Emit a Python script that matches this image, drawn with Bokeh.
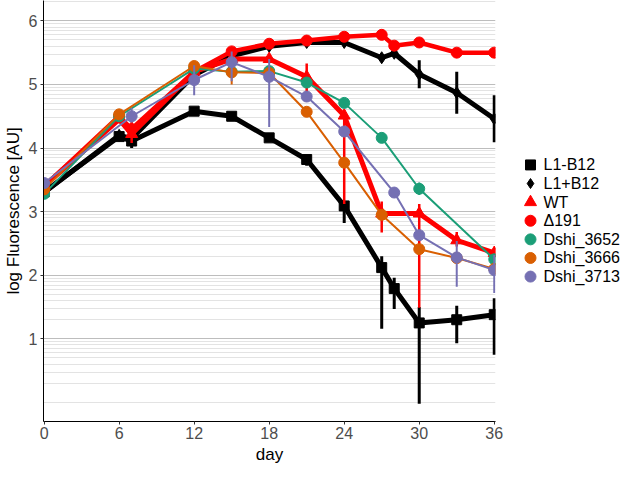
import math
from bokeh.plotting import figure
from bokeh.layouts import row
from bokeh.models import FixedTicker, Range1d
from bokeh.core.properties import value
from bokeh.embed import file_html
from bokeh.resources import INLINE

# ---------------- data ----------------
x_ticks = [0, 6, 12, 18, 24, 30, 36]
y_ticks = [1, 2, 3, 4, 5, 6]

days_l1_minus = [0, 6, 7, 12, 15, 18, 21, 24, 27, 28, 30, 33, 36]
val_l1_minus = [3.31, 4.18, 4.11, 4.58, 4.50, 4.16, 3.82, 3.09, 2.12, 1.79, 1.25, 1.30, 1.38]
lo_l1_minus = [3.27, 4.13, 4.00, 4.53, 4.45, 4.11, 3.72, 2.82, 1.16, 1.47, -0.02, 0.93, 0.75]
hi_l1_minus = [3.35, 4.23, 4.22, 4.63, 4.55, 4.21, 3.89, 3.16, 2.30, 1.96, 1.50, 1.52, 1.64]

days_l1_plus = [0, 6, 7, 12, 15, 18, 21, 24, 27, 28, 30, 33, 36]
val_l1_plus = [3.30, 4.20, 4.15, 5.15, 5.45, 5.60, 5.66, 5.66, 5.42, 5.49, 5.16, 4.87, 4.46]
lo_l1_plus = [3.26, 4.15, 4.10, 5.10, 5.40, 5.55, 5.61, 5.61, 5.36, 5.44, 4.94, 4.54, 4.09]
hi_l1_plus = [3.34, 4.25, 4.20, 5.20, 5.50, 5.65, 5.71, 5.71, 5.48, 5.54, 5.38, 5.20, 4.83]

days_wt = [0, 6, 7, 12, 15, 18, 21, 24, 27, 30, 33, 36]
val_wt = [3.40, 4.45, 4.22, 5.20, 5.40, 5.40, 5.12, 4.51, 2.97, 2.97, 2.55, 2.35]
lo_wt = [3.36, 4.40, 4.08, 5.15, 5.35, 5.35, 4.82, 3.12, 2.67, 1.49, 2.45, 2.28]
hi_wt = [3.44, 4.50, 4.43, 5.25, 5.45, 5.45, 5.33, 4.60, 3.16, 3.12, 2.68, 2.42]

days_d191 = [0, 6, 7, 12, 15, 18, 21, 24, 27, 28, 30, 33, 36]
val_d191 = [3.40, 4.50, 4.30, 5.20, 5.52, 5.64, 5.69, 5.75, 5.78, 5.61, 5.66, 5.50, 5.50]
lo_d191 = [3.36, 4.45, 4.25, 5.15, 5.47, 5.59, 5.64, 5.70, 5.73, 5.56, 5.61, 5.45, 5.45]
hi_d191 = [3.44, 4.55, 4.35, 5.25, 5.57, 5.69, 5.74, 5.80, 5.83, 5.66, 5.71, 5.55, 5.55]

days_3652 = [0, 6, 12, 15, 18, 21, 24, 27, 30, 36]
val_3652 = [3.28, 4.50, 5.25, 5.20, 5.21, 5.03, 4.71, 4.16, 3.36, 2.25]
lo_3652 = [3.23, 4.45, 5.20, 5.15, 5.16, 4.98, 4.66, 4.10, 3.26, 2.18]
hi_3652 = [3.33, 4.55, 5.30, 5.25, 5.26, 5.08, 4.76, 4.22, 3.46, 2.32]

days_3666 = [0, 6, 12, 15, 18, 21, 24, 27, 30, 33, 36]
val_3666 = [3.35, 4.53, 5.29, 5.19, 5.18, 4.57, 3.77, 2.95, 2.41, 2.27, 2.10]
lo_3666 = [3.30, 4.48, 5.24, 5.00, 5.13, 4.52, 3.72, 2.90, 2.36, 2.22, 2.05]
hi_3666 = [3.40, 4.58, 5.34, 5.24, 5.23, 4.62, 3.82, 3.00, 2.46, 2.32, 2.15]

days_3713 = [0, 7, 12, 15, 18, 21, 24, 28, 30, 33, 36]
val_3713 = [3.45, 4.50, 5.07, 5.35, 5.12, 4.81, 4.26, 3.30, 2.63, 2.28, 2.08]
lo_3713 = [3.40, 4.40, 4.83, 5.05, 4.33, 4.75, 4.20, 3.24, 2.55, 1.82, 1.72]
hi_3713 = [3.50, 4.63, 5.30, 5.52, 5.40, 4.87, 4.32, 3.36, 2.71, 2.54, 2.32]

labels = ["L1-B12", "L1+B12", "WT", "\u0394191", "Dshi_3652", "Dshi_3666", "Dshi_3713"]

# ---------------- styling ----------------
series = [
    (days_l1_minus, val_l1_minus, lo_l1_minus, hi_l1_minus, "black", "square", 10, 5, 3),
    (days_l1_plus, val_l1_plus, lo_l1_plus, hi_l1_plus, "black", "diamond", 12, 5, 3),
    (days_wt, val_wt, lo_wt, hi_wt, "#FF0000", "triangle", 12, 5, 2.5),
    (days_d191, val_d191, lo_d191, hi_d191, "#FF0000", "circle", 11, 4.5, 2.5),
    (days_3652, val_3652, lo_3652, hi_3652, "#1B9E77", "circle", 11, 2, 2),
    (days_3666, val_3666, lo_3666, hi_3666, "#D95F02", "circle", 11, 2, 2),
    (days_3713, val_3713, lo_3713, hi_3713, "#7570B3", "circle", 11, 2, 2),
]

FONT = "Liberation Sans"
FW, FH = 452, 421
TOTAL_H = 466
LEG_W = 120

p = figure(frame_width=FW, frame_height=FH, output_backend="svg", toolbar_location=None,
           x_range=Range1d(-0.05, 36.1), y_range=Range1d(-0.3, 6.32),
           min_border_top=0, min_border_left=0, min_border_bottom=0, min_border_right=10)
p.outline_line_color = None
p.background_fill_color = "white"

minor = []
for k in range(0, 7):
    for m in range(1, 10):
        v = k + math.log10(m)
        if v <= 6.32 and not (m == 1 and k >= 1):
            minor.append(round(v, 4))

p.yaxis.ticker = FixedTicker(ticks=y_ticks, minor_ticks=minor)
p.xaxis.ticker = FixedTicker(ticks=x_ticks, minor_ticks=[])
p.xgrid.grid_line_color = None
p.ygrid.grid_line_color = "#BDBDBD"
p.ygrid.grid_line_width = 1
p.ygrid.minor_grid_line_color = "#E3E3E3"
p.ygrid.minor_grid_line_width = 1

for ax in (p.xaxis, p.yaxis):
    ax.axis_line_color = "black"
    ax.axis_line_width = 1
    ax.major_tick_line_color = "#333333"
    ax.major_tick_out = 3
    ax.major_tick_in = 0
    ax.minor_tick_line_color = None
    ax.major_label_text_font = FONT
    ax.major_label_text_font_size = "16px"
    ax.major_label_text_color = "#4D4D4D"
    ax.major_label_standoff = 2
    ax.axis_label_text_font = FONT
    ax.axis_label_text_font_size = "17px"
    ax.axis_label_text_font_style = "normal"
    ax.axis_label_text_color = "black"
    ax.axis_label_standoff = 3

p.xaxis.axis_label = "day"
p.yaxis.axis_label = "log Fluorescence [AU]"

for (d, v, lo, hi, col, mk, sz, lw, ew) in series:
    p.line(d, v, line_color=col, line_width=lw)
    p.segment(x0=d, y0=lo, x1=d, y1=hi, line_color=col, line_width=ew)
    p.scatter(d, v, marker=mk, size=sz, fill_color=col, line_color=col)

# ---------------- legend panel (pixel-like coordinates, y from top) ----------------
pl = figure(width=LEG_W, height=TOTAL_H, output_backend="svg", toolbar_location=None,
            x_range=Range1d(0, LEG_W), y_range=Range1d(TOTAL_H, 0),
            x_axis_type=None, y_axis_type=None, min_border=0)
pl.outline_line_color = None
pl.xgrid.grid_line_color = None
pl.ygrid.grid_line_color = None

leg_y = [182 + 20.6 * i for i in range(len(labels))]
leg_marker = [s[5] for s in series]
leg_color = [s[4] for s in series]
leg_size = [10, 10, 12, 11, 11, 11, 11]
pl.scatter(x=[25] * len(labels), y=leg_y, marker=leg_marker, size=leg_size,
           fill_color=leg_color, line_color=leg_color)
pl.text(x=[38] * len(labels), y=leg_y, text=labels, text_font=value(FONT),
        text_font_size="16px", text_color="black", text_baseline="middle", text_align="left")

layout = row(p, pl)
open("out.html", "w").write(file_html(layout, INLINE))
